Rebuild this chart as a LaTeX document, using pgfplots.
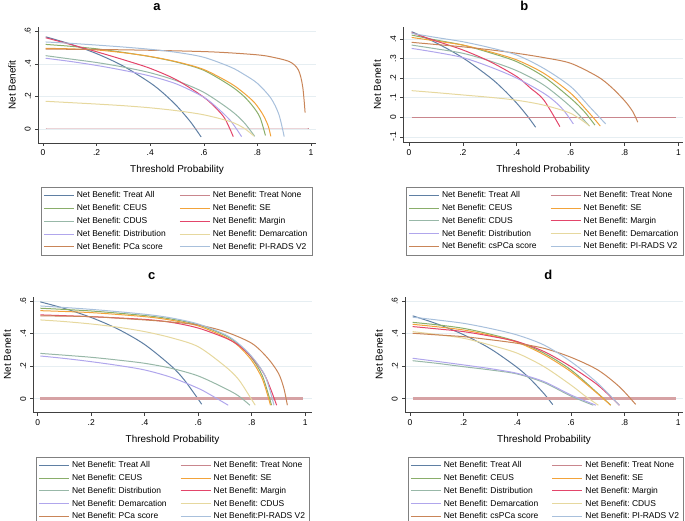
\documentclass[border=0pt]{standalone}
\usepackage{pgfplots}
\pgfplotsset{compat=1.18}
\usepackage{fontspec}
\setmainfont{Liberation Sans}
\definecolor{cTA}{HTML}{5F7FA3}
\definecolor{cTN}{HTML}{C9868D}
\definecolor{cTNc}{HTML}{D6A2A4}
\definecolor{cCEUS}{HTML}{8AAE6A}
\definecolor{cSE}{HTML}{F2A33A}
\definecolor{cGG}{HTML}{98B8A8}
\definecolor{cMar}{HTML}{E3456A}
\definecolor{cLav}{HTML}{B0A6EC}
\definecolor{cKh}{HTML}{E6D89E}
\definecolor{cBr}{HTML}{C98558}
\definecolor{cLB}{HTML}{A8C0DC}
\definecolor{gridc}{HTML}{E6EEF2}
\pgfplotsset{
  dca/.style={
    scale only axis,
    axis x line*=bottom, axis y line*=left,
    axis line style={-, draw=black!75, line width=0.6bp},
    tick align=outside, major tick length=3bp,
    tick style={draw=black!75, line width=0.6bp},
    ymajorgrids, grid style={draw=gridc, line width=0.6bp},
    xtick={0,0.2,0.4,0.6,0.8,1}, xticklabels={0,.2,.4,.6,.8,1},
    ticklabel style={font=\fontsize{8.5}{10}\selectfont},
    yticklabel style={rotate=90, anchor=south, inner sep=4bp},
    xlabel={Threshold Probability}, ylabel={Net Benefit},
    label style={font=\fontsize{8.5}{10}\selectfont},
    every axis x label/.style={at={(axis description cs:0.5,0)}, yshift=-27bp, anchor=center},
    every axis y label/.style={at={(axis description cs:0,0.5)}, xshift=-26bp, rotate=90, anchor=center},
    legend columns=2,
    legend cell align=left,
    legend image code/.code={\draw[##1, line width=1bp] (0bp,0bp) -- (30bp,0bp);},
    legend style={at={(axis description cs:0,0)}, anchor=north west, xshift=3bp, yshift=-44bp,
      draw=black!50, line width=0.6bp, font=\fontsize{8.5}{10}\selectfont, inner sep=2bp,
      nodes={inner sep=2.5bp, text height=6.2bp, text depth=1.6bp},
      /tikz/every even column/.append style={column sep=11bp}},
    every axis plot/.append style={smooth, no markers},
  },
  cv/.style={line width=1bp},
}
\begin{document}
\begin{tikzpicture}[x=1bp,y=1bp]
\path[use as bounding box] (0,0) rectangle (685,521);
% ---------------- a ----------------
\begin{axis}[dca, at={(38bp,378bp)}, anchor=south west, width=278bp, height=116bp,
  xmin=-0.0187, xmax=1.0187, ymin=-0.0859, ymax=0.626,
  ytick={0,0.2,0.4,0.6}, yticklabels={0,.2,.4,.6}]
\addplot[cv, cTA] coordinates {(0.01,0.5657)(0.1,0.5222)(0.2,0.4625)(0.3,0.3857)(0.4,0.2833)(0.45,0.2182)(0.5,0.14)(0.55,0.0444)(0.59,-0.0488)};
\addlegendentry{Net Benefit:\ Treat All}
\addplot[cv, cTN] coordinates {(0.01,0)(0.99,0)};
\addlegendentry{Net Benefit:\ Treat None}
\addplot[cv, cCEUS] coordinates {(0.01,0.519)(0.1,0.508)(0.2,0.492)(0.3,0.47)(0.4,0.444)(0.5,0.41)(0.6,0.36)(0.7,0.265)(0.75,0.2)(0.785,0.135)(0.81,0.07)(0.83,-0.04)};
\addlegendentry{Net Benefit:\ CEUS}
\addplot[cv, cSE] coordinates {(0.01,0.495)(0.1,0.492)(0.2,0.485)(0.3,0.468)(0.4,0.445)(0.5,0.412)(0.6,0.365)(0.7,0.28)(0.75,0.22)(0.79,0.16)(0.82,0.09)(0.84,0.02)(0.85,-0.045)};
\addlegendentry{Net Benefit:\ SE}
\addplot[cv, cGG] coordinates {(0.01,0.45)(0.1,0.43)(0.2,0.408)(0.3,0.38)(0.4,0.345)(0.5,0.295)(0.6,0.225)(0.7,0.115)(0.75,0.04)(0.79,-0.045)};
\addlegendentry{Net Benefit:\ CDUS}
\addplot[cv, cMar] coordinates {(0.01,0.56)(0.1,0.52)(0.2,0.474)(0.3,0.425)(0.4,0.372)(0.5,0.3)(0.6,0.195)(0.65,0.12)(0.68,0.06)(0.71,-0.047)};
\addlegendentry{Net Benefit:\ Margin}
\addplot[cv, cLav] coordinates {(0.01,0.434)(0.1,0.415)(0.2,0.39)(0.3,0.36)(0.4,0.325)(0.5,0.275)(0.6,0.195)(0.65,0.13)(0.7,0.05)(0.741,-0.047)};
\addlegendentry{Net Benefit:\ Distribution}
\addplot[cv, cKh] coordinates {(0.01,0.17)(0.1,0.162)(0.2,0.153)(0.3,0.143)(0.4,0.13)(0.5,0.112)(0.6,0.087)(0.7,0.045)(0.75,0.005)(0.787,-0.043)};
\addlegendentry{Net Benefit:\ Demarcation}
\addplot[cv, cBr] coordinates {(0.01,0.49)(0.2,0.488)(0.4,0.483)(0.6,0.475)(0.7,0.467)(0.8,0.455)(0.85,0.443)(0.92,0.413)(0.953,0.362)(0.969,0.26)(0.978,0.1)};
\addlegendentry{Net Benefit:\ PCa score}
\addplot[cv, cLB] coordinates {(0.01,0.534)(0.1,0.526)(0.2,0.515)(0.3,0.503)(0.4,0.489)(0.5,0.47)(0.6,0.44)(0.7,0.38)(0.75,0.335)(0.8,0.28)(0.85,0.19)(0.88,0.09)(0.9,-0.047)};
\addlegendentry{Net Benefit:\ PI-RADS V2}
\end{axis}
% ---------------- b ----------------
\begin{axis}[dca, at={(403.3bp,378.3bp)}, anchor=south west, width=279.7bp, height=116bp,
  xmin=-0.021, xmax=1.017, ymin=-0.13, ymax=0.463,
  ytick={-0.1,0,0.1,0.2,0.3,0.4}, yticklabels={-.1,0,.1,.2,.3,.4}]
\addplot[cv, cTA] coordinates {(0.01,0.4374)(0.1,0.3811)(0.2,0.3038)(0.3,0.2043)(0.35,0.1431)(0.4,0.0717)(0.44,0.0054)(0.47,-0.051)};
\addlegendentry{Net Benefit:\ Treat All}
\addplot[cv, cTN] coordinates {(0.01,0)(0.99,0)};
\addlegendentry{Net Benefit:\ Treat None}
\addplot[cv, cCEUS] coordinates {(0.01,0.42)(0.1,0.395)(0.2,0.369)(0.3,0.33)(0.4,0.284)(0.5,0.208)(0.6,0.097)(0.65,0.03)(0.69,-0.04)};
\addlegendentry{Net Benefit:\ CEUS}
\addplot[cv, cSE] coordinates {(0.01,0.408)(0.1,0.39)(0.2,0.369)(0.3,0.335)(0.4,0.293)(0.5,0.225)(0.6,0.123)(0.67,0.02)(0.71,-0.045)};
\addlegendentry{Net Benefit:\ SE}
\addplot[cv, cGG] coordinates {(0.01,0.369)(0.1,0.35)(0.2,0.327)(0.3,0.288)(0.4,0.238)(0.5,0.165)(0.6,0.054)(0.67,-0.045)};
\addlegendentry{Net Benefit:\ CDUS}
\addplot[cv, cMar] coordinates {(0.01,0.432)(0.1,0.39)(0.2,0.344)(0.3,0.285)(0.4,0.208)(0.45,0.15)(0.5,0.089)(0.56,-0.048)};
\addlegendentry{Net Benefit:\ Margin}
\addplot[cv, cLav] coordinates {(0.01,0.352)(0.1,0.332)(0.2,0.305)(0.3,0.258)(0.4,0.2)(0.5,0.123)(0.55,0.07)(0.58,0.025)(0.61,-0.034)};
\addlegendentry{Net Benefit:\ Distribution}
\addplot[cv, cKh] coordinates {(0.01,0.136)(0.1,0.126)(0.2,0.114)(0.3,0.102)(0.4,0.087)(0.5,0.062)(0.6,0.02)(0.67,-0.044)};
\addlegendentry{Net Benefit:\ Demarcation}
\addplot[cv, cBr] coordinates {(0.01,0.383)(0.1,0.372)(0.2,0.36)(0.3,0.345)(0.4,0.327)(0.5,0.305)(0.6,0.276)(0.7,0.208)(0.75,0.155)(0.8,0.085)(0.83,0.03)(0.849,-0.025)};
\addlegendentry{Net Benefit:\ csPCa score}
\addplot[cv, cLB] coordinates {(0.01,0.429)(0.1,0.408)(0.2,0.386)(0.3,0.356)(0.4,0.318)(0.5,0.25)(0.6,0.157)(0.67,0.054)(0.73,-0.034)};
\addlegendentry{Net Benefit:\ PI-RADS V2}
\end{axis}
% ---------------- c ----------------
\begin{axis}[dca, at={(33.3bp,108.3bp)}, anchor=south west, width=278.4bp, height=116bp,
  xmin=-0.0164, xmax=1.024, ymin=-0.086, ymax=0.628,
  ytick={0,0.2,0.4,0.6}, yticklabels={0,.2,.4,.6}]
\addplot[cv, cTA] coordinates {(0.01,0.596)(0.1,0.5556)(0.2,0.5)(0.3,0.4286)(0.4,0.3333)(0.5,0.2)(0.55,0.1111)(0.613,-0.034)};
\addlegendentry{Net Benefit:\ Treat All}
\addlegendimage{cTN, line width=1bp}
\addlegendentry{Net Benefit:\ Treat None}
\addplot[cTNc, line width=2.5bp, forget plot] coordinates {(0.01,0)(0.99,0)};
\addplot[cv, cCEUS] coordinates {(0.01,0.557)(0.2,0.54)(0.4,0.512)(0.5,0.49)(0.6,0.455)(0.7,0.39)(0.75,0.335)(0.8,0.25)(0.84,0.14)(0.874,-0.04)};
\addlegendentry{Net Benefit:\ CEUS}
\addplot[cv, cSE] coordinates {(0.01,0.542)(0.2,0.53)(0.4,0.505)(0.5,0.483)(0.6,0.448)(0.7,0.38)(0.75,0.325)(0.8,0.235)(0.84,0.12)(0.87,-0.04)};
\addlegendentry{Net Benefit:\ SE}
\addplot[cv, cGG] coordinates {(0.01,0.279)(0.1,0.268)(0.2,0.255)(0.3,0.238)(0.4,0.218)(0.5,0.187)(0.6,0.14)(0.7,0.064)(0.75,0.018)(0.793,-0.04)};
\addlegendentry{Net Benefit:\ Distribution}
\addplot[cv, cMar] coordinates {(0.01,0.516)(0.2,0.505)(0.4,0.488)(0.5,0.47)(0.6,0.435)(0.7,0.375)(0.75,0.33)(0.8,0.255)(0.85,0.14)(0.893,-0.04)};
\addlegendentry{Net Benefit:\ Margin}
\addplot[cv, cLav] coordinates {(0.01,0.263)(0.1,0.248)(0.2,0.228)(0.3,0.205)(0.4,0.177)(0.5,0.131)(0.6,0.064)(0.65,0.02)(0.712,-0.04)};
\addlegendentry{Net Benefit:\ Demarcation}
\addplot[cv, cKh] coordinates {(0.01,0.485)(0.1,0.475)(0.2,0.46)(0.3,0.44)(0.4,0.413)(0.5,0.375)(0.6,0.32)(0.7,0.2)(0.75,0.12)(0.79,0.02)(0.813,-0.04)};
\addlegendentry{Net Benefit:\ CDUS}
\addplot[cv, cBr] coordinates {(0.01,0.51)(0.2,0.505)(0.4,0.485)(0.5,0.472)(0.6,0.454)(0.7,0.413)(0.8,0.341)(0.86,0.249)(0.9,0.156)(0.92,0.064)(0.933,-0.04)};
\addlegendentry{Net Benefit:\ PCa score}
\addplot[cv, cLB] coordinates {(0.01,0.571)(0.2,0.55)(0.4,0.52)(0.5,0.497)(0.6,0.46)(0.7,0.395)(0.75,0.34)(0.8,0.26)(0.85,0.14)(0.883,-0.04)};
\addlegendentry{Net Benefit:PI-RADS V2}
\end{axis}
% ---------------- d ----------------
\begin{axis}[dca, at={(405bp,108.3bp)}, anchor=south west, width=278bp, height=116bp,
  xmin=-0.0186, xmax=1.0175, ymin=-0.086, ymax=0.628,
  ytick={0,0.2,0.4,0.6}, yticklabels={0,.2,.4,.6}]
\addplot[cv, cTA] coordinates {(0.01,0.5101)(0.1,0.4611)(0.2,0.3938)(0.3,0.3071)(0.4,0.1917)(0.45,0.1182)(0.5,0.03)(0.532,-0.0363)};
\addlegendentry{Net Benefit:\ Treat All}
\addlegendimage{cTN, line width=1bp}
\addlegendentry{Net Benefit:\ Treat None}
\addplot[cTNc, line width=2.5bp, forget plot] coordinates {(0.01,0)(0.99,0)};
\addplot[cv, cCEUS] coordinates {(0.01,0.47)(0.1,0.455)(0.2,0.433)(0.3,0.397)(0.4,0.351)(0.5,0.28)(0.6,0.177)(0.7,0.033)(0.748,-0.04)};
\addlegendentry{Net Benefit:\ CEUS}
\addplot[cv, cSE] coordinates {(0.01,0.458)(0.1,0.443)(0.2,0.423)(0.3,0.39)(0.4,0.347)(0.5,0.27)(0.6,0.166)(0.7,0.03)(0.748,-0.04)};
\addlegendentry{Net Benefit:\ SE}
\addplot[cv, cGG] coordinates {(0.01,0.234)(0.1,0.218)(0.2,0.197)(0.3,0.177)(0.4,0.152)(0.5,0.099)(0.6,0.016)(0.683,-0.04)};
\addlegendentry{Net Benefit:\ Distribution}
\addplot[cv, cMar] coordinates {(0.01,0.444)(0.1,0.43)(0.2,0.413)(0.3,0.385)(0.4,0.351)(0.5,0.29)(0.6,0.197)(0.7,0.084)(0.78,-0.04)};
\addlegendentry{Net Benefit:\ Margin}
\addplot[cv, cLav] coordinates {(0.01,0.249)(0.1,0.23)(0.2,0.208)(0.3,0.185)(0.4,0.156)(0.5,0.105)(0.6,0.023)(0.693,-0.04)};
\addlegendentry{Net Benefit:\ Demarcation}
\addplot[cv, cKh] coordinates {(0.01,0.413)(0.1,0.395)(0.2,0.372)(0.3,0.33)(0.4,0.28)(0.5,0.197)(0.6,0.084)(0.65,0.02)(0.702,-0.04)};
\addlegendentry{Net Benefit:\ CDUS}
\addplot[cv, cBr] coordinates {(0.01,0.403)(0.1,0.393)(0.2,0.382)(0.3,0.363)(0.4,0.341)(0.5,0.31)(0.6,0.255)(0.7,0.177)(0.78,0.074)(0.841,-0.035)};
\addlegendentry{Net Benefit:\ csPCa score}
\addplot[cv, cLB] coordinates {(0.01,0.502)(0.1,0.485)(0.2,0.464)(0.3,0.432)(0.4,0.392)(0.5,0.33)(0.6,0.228)(0.7,0.095)(0.78,-0.04)};
\addlegendentry{Net Benefit:\ PI-RADS V2}
\end{axis}
% titles
\node[font=\bfseries\fontsize{13}{13}\selectfont, anchor=base] at (157,510.5) {a};
\node[font=\bfseries\fontsize{13}{13}\selectfont, anchor=base] at (524.3,510.5) {b};
\node[font=\bfseries\fontsize{13}{13}\selectfont, anchor=base] at (151.7,241.7) {c};
\node[font=\bfseries\fontsize{13}{13}\selectfont, anchor=base] at (548.3,241.7) {d};
\end{tikzpicture}
\end{document}
